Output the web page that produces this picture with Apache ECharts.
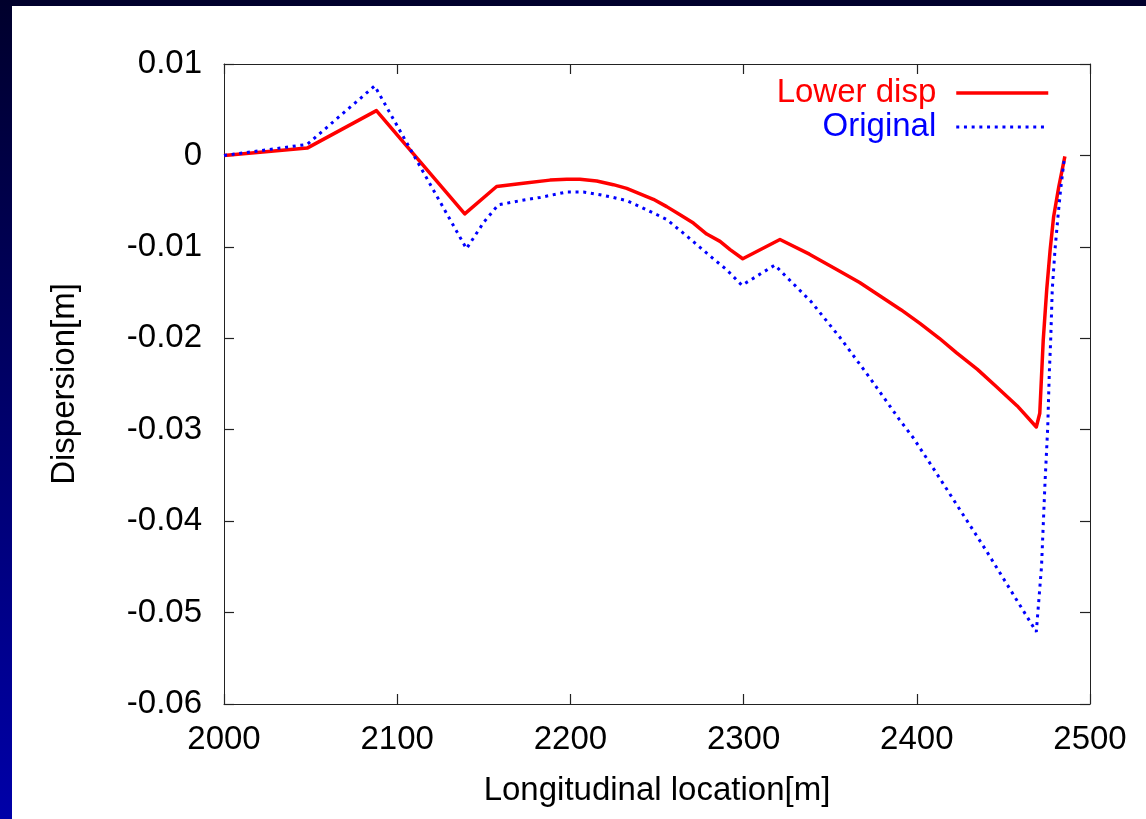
<!DOCTYPE html>
<html>
<head>
<meta charset="utf-8">
<script src="https://cdn.jsdelivr.net/npm/echarts@6/dist/echarts.min.js"></script>
<style>
html,body{margin:0;padding:0;}
#chart{width:1146px;height:819px;}
</style>
</head>
<body>
<div id="chart"></div>
<script>
// Data
const lowerX = [2000, 2048, 2088, 2139, 2157.4, 2172.8, 2188.2, 2197.9, 2205.5, 2215.2, 2224.8, 2232.5, 2240.2, 2247.9, 2255.6, 2263.3, 2271, 2278.7, 2286.4, 2292.2, 2299.5, 2321, 2338, 2354, 2367, 2379, 2391, 2402, 2413, 2423, 2435, 2446, 2458, 2469, 2471, 2473, 2475, 2477, 2479, 2482, 2485.5];
const lowerY = [0, 0.0008, 0.0049, -0.0064, -0.0034, -0.00305, -0.0027, -0.0026, -0.0026, -0.0028, -0.0032, -0.0036, -0.0042, -0.0048, -0.0056, -0.0065, -0.0074, -0.0086, -0.0094, -0.0103, -0.0113, -0.0092, -0.0108, -0.0125, -0.0139, -0.0154, -0.0169, -0.0184, -0.0200, -0.0216, -0.0234, -0.0253, -0.0274, -0.0297, -0.0282, -0.0202, -0.0147, -0.0103, -0.0067, -0.0034, -0.0001];
const origX = [2000, 2048, 2087, 2140, 2150, 2158.4, 2170.9, 2182.4, 2197.9, 2207.5, 2217.1, 2224.8, 2232.5, 2240.2, 2247.9, 2255.6, 2267.1, 2274.8, 2282.5, 2290.2, 2299, 2318, 2339, 2356, 2372, 2390, 2398, 2411.5, 2440, 2461.5, 2469, 2472, 2474, 2475.6, 2476.5, 2477.3, 2478.2, 2479.8, 2481.7, 2483, 2485.2];
const origY = [0, 0.0012, 0.0076, -0.0102, -0.0073, -0.0054, -0.00495, -0.0046, -0.0040, -0.0040, -0.0043, -0.0046, -0.00495, -0.0056, -0.0063, -0.0070, -0.0088, -0.01005, -0.0113, -0.0125, -0.0142, -0.0120, -0.0160, -0.0200, -0.0241, -0.0289, -0.0309, -0.0348, -0.0432, -0.0498, -0.0521, -0.0450, -0.0359, -0.0297, -0.0238, -0.0202, -0.0147, -0.0103, -0.0063, -0.0038, -0.0003];
const xTicks = {min: 2000, max: 2500, interval: 100};
const yTicks = {min: -0.06, max: 0.01, interval: 0.01};
const seriesNames = ['Lower disp', 'Original'];

const FONT = 'Liberation Sans, Arial, Helvetica, sans-serif';
const zip = (xs, ys) => xs.map((x, i) => [x, ys[i]]);

const chart = echarts.init(document.getElementById('chart'), null, {renderer: 'canvas'});
const axisLine = {show: true, onZero: false, lineStyle: {color: '#222', width: 1}};
const tick = {show: true, inside: true, length: 10, lineStyle: {color: '#222', width: 1.2}};

chart.setOption({
  backgroundColor: {
    type: 'linear', x: 0, y: 0, x2: 0, y2: 1,
    colorStops: [{offset: 0, color: '#00002c'}, {offset: 1, color: '#0000a8'}]
  },
  animation: false,
  graphic: [{
    type: 'rect', left: 12, top: 6, z: -10,
    shape: {width: 1134, height: 813},
    style: {fill: '#ffffff'}
  }],
  grid: {left: 224, right: 56, top: 64, bottom: 115},
  legend: {
    orient: 'vertical', right: 96, top: 76, align: 'right', padding: 0,
    itemWidth: 92, itemHeight: 14, itemGap: 0,
    itemStyle: {opacity: 0},
    lineStyle: {width: 'inherit'},
    textStyle: {fontFamily: FONT, fontSize: 33, lineHeight: 34, padding: [0, 15, 0, 0]},
    data: [
      {name: seriesNames[0], textStyle: {color: '#ff0000'}},
      {name: seriesNames[1], textStyle: {color: '#0000ff'}}
    ]
  },
  xAxis: [{
    type: 'value', min: xTicks.min, max: xTicks.max, interval: xTicks.interval,
    position: 'bottom', axisLine, axisTick: tick, splitLine: {show: false},
    axisLabel: {fontFamily: FONT, fontSize: 33, color: '#000', margin: 19,
      formatter: v => String(v)},
    name: 'Longitudinal location[m]', nameLocation: 'middle', nameGap: 70,
    nameTextStyle: {fontFamily: FONT, fontSize: 33, color: '#000'}
  }, {
    type: 'value', min: xTicks.min, max: xTicks.max, interval: xTicks.interval,
    position: 'top', axisLine, axisTick: tick, splitLine: {show: false},
    axisLabel: {show: false}
  }],
  yAxis: [{
    type: 'value', min: yTicks.min, max: yTicks.max, interval: yTicks.interval,
    position: 'left', axisLine, axisTick: tick, splitLine: {show: false},
    axisLabel: {fontFamily: FONT, fontSize: 33, color: '#000', margin: 22,
      formatter: v => String(Math.round(v * 100) / 100)},
    name: 'Dispersion[m]', nameLocation: 'middle', nameGap: 143,
    nameTextStyle: {fontFamily: FONT, fontSize: 33, color: '#000'}
  }, {
    type: 'value', min: yTicks.min, max: yTicks.max, interval: yTicks.interval,
    position: 'right', axisLine, axisTick: tick, splitLine: {show: false},
    axisLabel: {show: false}
  }],
  series: [{
    name: seriesNames[0], type: 'line', data: zip(lowerX, lowerY),
    symbol: 'none', smooth: false, z: 2,
    lineStyle: {color: '#ff0000', width: 3.5, join: 'round'},
    itemStyle: {color: '#ff0000'}
  }, {
    name: seriesNames[1], type: 'line', data: zip(origX, origY),
    symbol: 'none', smooth: false, z: 3,
    lineStyle: {color: '#0000ff', width: 3, type: [3, 4.7]},
    itemStyle: {color: '#0000ff'}
  }]
});
</script>
</body>
</html>
